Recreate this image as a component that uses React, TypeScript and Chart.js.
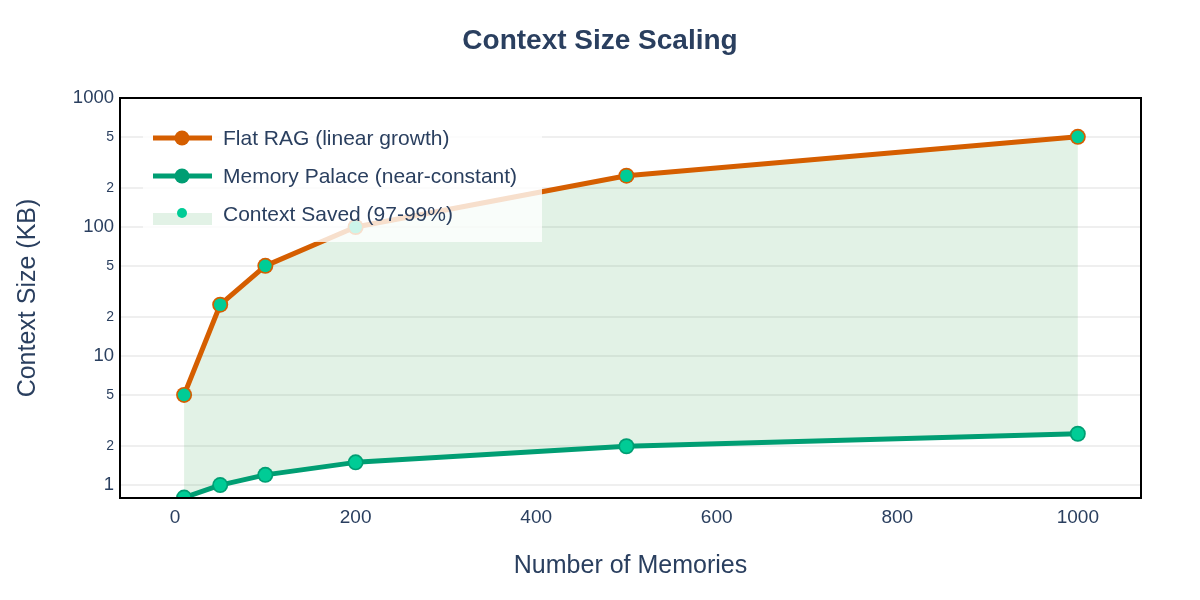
import React, { useEffect, useRef } from "react";
import { Chart, registerables } from "chart.js";

Chart.register(...registerables);

const X_VALUES = [10, 50, 100, 200, 500, 1000];
const FLAT_RAG = [5, 25, 50, 100, 250, 500];
const MEMORY_PALACE = [0.8, 1, 1.2, 1.5, 2, 2.5];
const X_TICKS = [0, 200, 400, 600, 800, 1000];
const Y_TICKS = [1, 2, 5, 10, 20, 50, 100, 200, 500, 1000];
const SERIES_NAMES = ["Flat RAG (linear growth)", "Memory Palace (near-constant)", "Context Saved (97-99%)"];

const ORANGE = "#D55E00";
const GREEN = "#009E73";
const TEAL = "#00CC96";
const FILL = "rgba(60,170,90,0.15)";
const TEXT = "#2a3f5f";
const FONT = "'Liberation Sans', Arial, Helvetica, sans-serif";

const isPow10 = (v: number) => {
  const e = Math.log10(v);
  return Math.abs(e - Math.round(e)) < 1e-9;
};

const decor = {
  id: "decor",
  afterDatasetsDraw(chart: any) {
    const ctx = chart.ctx;
    const a = chart.chartArea;
    ctx.save();
    // legend
    const lx = 143, ly = 119, lw = 399, lh = 123;
    ctx.fillStyle = "rgba(255,255,255,0.8)";
    ctx.fillRect(lx, ly, lw, lh);
    const rows = [138, 176, 215];
    const colors = [ORANGE, GREEN];
    for (let i = 0; i < 2; i++) {
      ctx.strokeStyle = colors[i];
      ctx.lineWidth = 5;
      ctx.beginPath();
      ctx.moveTo(153, rows[i]);
      ctx.lineTo(212, rows[i]);
      ctx.stroke();
      ctx.fillStyle = colors[i];
      ctx.beginPath();
      ctx.arc(182, rows[i], 7.5, 0, Math.PI * 2);
      ctx.fill();
    }
    ctx.fillStyle = FILL;
    ctx.fillRect(153, 213, 59, 12);
    ctx.fillStyle = TEAL;
    ctx.beginPath();
    ctx.arc(182, 213, 5, 0, Math.PI * 2);
    ctx.fill();
    ctx.fillStyle = TEXT;
    ctx.font = `21px ${FONT}`;
    ctx.textAlign = "left";
    ctx.textBaseline = "middle";
    ctx.fillText(SERIES_NAMES[0], 223, rows[0] + 1);
    ctx.fillText(SERIES_NAMES[1], 223, rows[1] + 1);
    ctx.fillText(SERIES_NAMES[2], 223, rows[2]);
    // border box
    ctx.strokeStyle = "#000";
    ctx.lineWidth = 2;
    ctx.strokeRect(a.left, a.top, a.right - a.left, a.bottom - a.top);
    ctx.restore();
  },
  afterDraw(chart: any) {
    const ctx = chart.ctx;
    const a = chart.chartArea;
    ctx.save();
    ctx.fillStyle = TEXT;
    ctx.textAlign = "center";
    ctx.textBaseline = "middle";
    ctx.font = `bold 28px ${FONT}`;
    ctx.fillText("Context Size Scaling", 600, 41);
    ctx.font = `25px ${FONT}`;
    ctx.fillText("Number of Memories", (a.left + a.right) / 2, 566);
    ctx.translate(28, (a.top + a.bottom) / 2);
    ctx.rotate(-Math.PI / 2);
    ctx.fillText("Context Size (KB)", 0, 0);
    ctx.restore();
  },
};

export default function App() {
  const ref = useRef<HTMLCanvasElement>(null);
  useEffect(() => {
    if (!ref.current) return;
    const flat = X_VALUES.map((x, i) => ({ x, y: FLAT_RAG[i] }));
    const palace = X_VALUES.map((x, i) => ({ x, y: MEMORY_PALACE[i] }));
    const saved = [...flat, ...palace.slice().reverse()];
    const chart = new Chart(ref.current, {
      type: "line",
      data: {
        datasets: [
          {
            label: SERIES_NAMES[0],
            data: flat,
            borderColor: ORANGE,
            backgroundColor: ORANGE,
            borderWidth: 5,
            pointRadius: 8,
            pointBorderWidth: 0,
            pointBackgroundColor: ORANGE,
            fill: false,
            order: 1,
            borderJoinStyle: "round",
            borderCapStyle: "round",
          },
          {
            label: SERIES_NAMES[1],
            data: palace,
            borderColor: GREEN,
            backgroundColor: GREEN,
            borderWidth: 5,
            pointRadius: 8,
            pointBorderWidth: 0,
            pointBackgroundColor: GREEN,
            fill: false,
            order: 2,
            borderJoinStyle: "round",
            borderCapStyle: "round",
          },
          {
            label: SERIES_NAMES[2],
            data: saved,
            borderColor: "rgba(0,0,0,0)",
            backgroundColor: FILL,
            borderWidth: 0,
            showLine: true,
            pointRadius: 6.3,
            pointBorderWidth: 0,
            pointBackgroundColor: TEAL,
            fill: "shape",
            order: 0,
          },
        ] as any,
      },
      options: {
        animation: false,
        responsive: false,
        events: [],
        layout: { padding: { top: 98, right: 59, left: 0, bottom: 0 } },
        plugins: {
          legend: { display: false },
          title: { display: false },
          tooltip: { enabled: false },
          filler: { drawTime: "beforeDatasetsDraw" },
        } as any,
        scales: {
          x: {
            type: "linear",
            min: -61,
            max: 1070,
            afterBuildTicks: (s: any) => {
              s.ticks = X_TICKS.map((v) => ({ value: v }));
            },
            afterFit: (s: any) => {
              s.height = 102;
            },
            grid: { display: false, drawTicks: false },
            border: { display: false },
            ticks: {
              autoSkip: false,
              padding: 8,
              color: TEXT,
              font: { family: FONT, size: 19 },
              callback: (v: any) => String(v),
            },
          },
          y: {
            type: "logarithmic",
            min: 0.794,
            max: 1000,
            afterBuildTicks: (s: any) => {
              s.ticks = Y_TICKS.map((v) => ({ value: v }));
            },
            afterFit: (s: any) => {
              s.width = 120;
            },
            grid: { color: "#efefef", lineWidth: 2, drawTicks: false },
            border: { display: false },
            ticks: {
              autoSkip: false,
              padding: 6,
              color: TEXT,
              font: (c: any) => ({
                family: FONT,
                size: c.tick && isPow10(c.tick.value) ? 18.5 : 14,
              }),
              callback: (v: any) => {
                const n = Number(v);
                if (isPow10(n)) return String(n);
                return String(Math.round(n / Math.pow(10, Math.floor(Math.log10(n)))));
              },
            },
          },
        },
      } as any,
      plugins: [decor],
    });
    return () => chart.destroy();
  }, []);
  return (
    <div style={{ position: "absolute", left: 0, top: 0, width: 1200, height: 600, background: "#fff" }}>
      <canvas ref={ref} width={1200} height={600} style={{ width: 1200, height: 600 }} />
    </div>
  );
}
